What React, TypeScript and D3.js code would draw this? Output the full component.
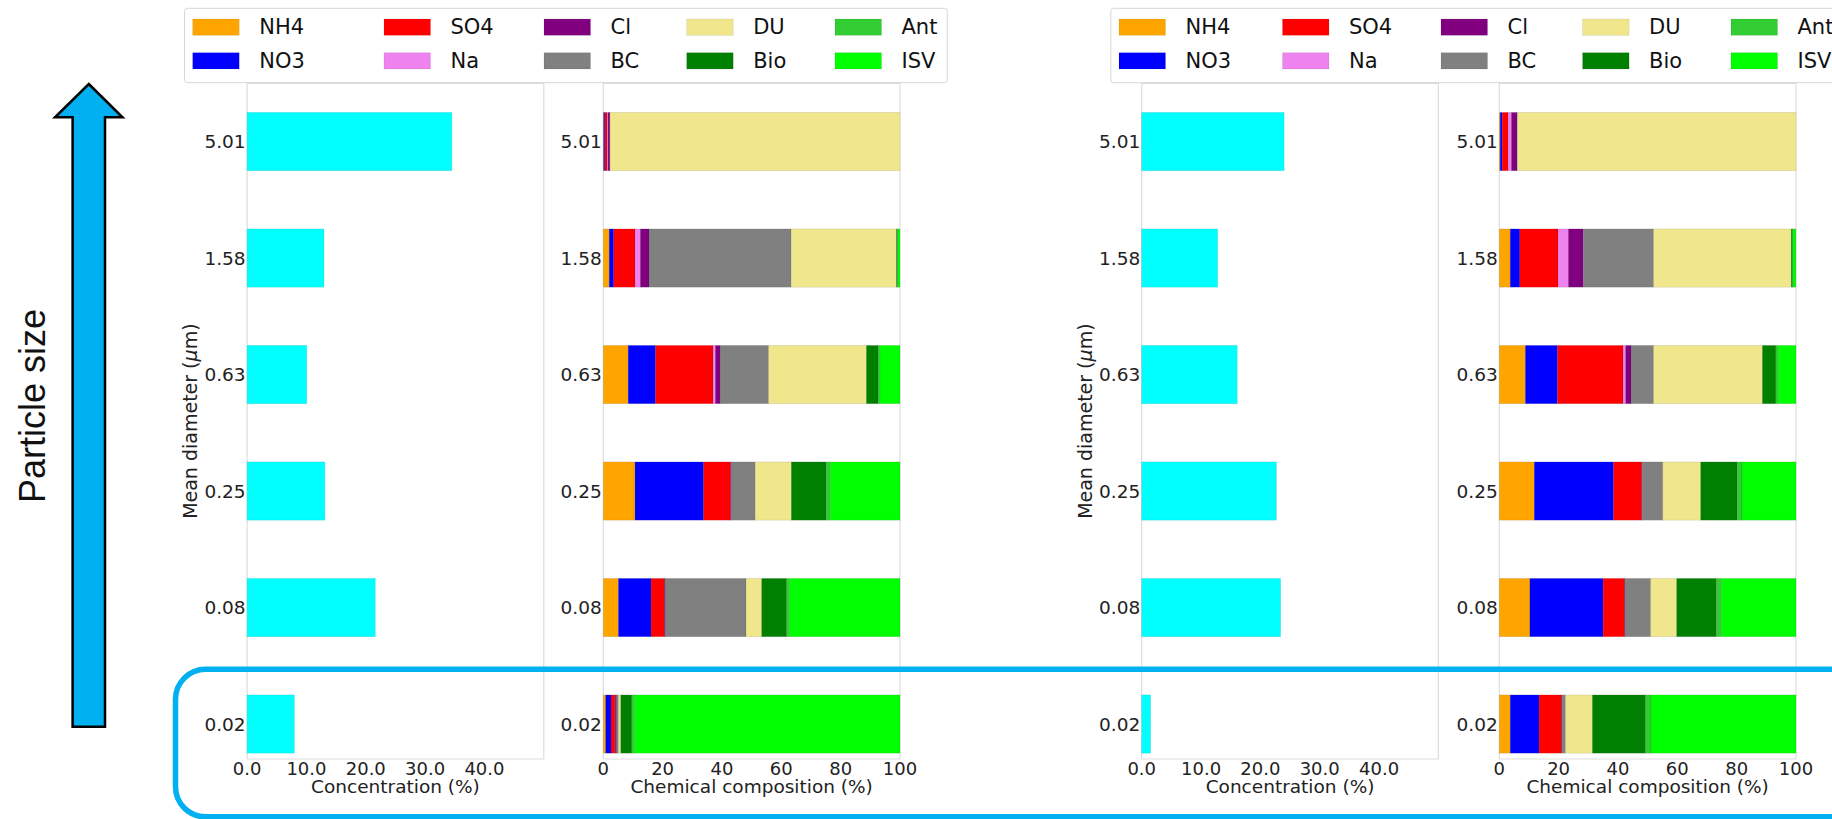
import React from "react";
import * as d3 from "d3";

// particle size bins (bottom to top)
const sizeLabels = ["0.02", "0.08", "0.25", "0.63", "1.58", "5.01"];
const species = ["NH4", "NO3", "SO4", "Na", "Cl", "BC", "DU", "Bio", "Ant", "ISV"];
const speciesColors = ["#ffa500", "#0000ff", "#ff0000", "#ee82ee", "#800080", "#808080", "#f0e68c", "#008000", "#32cd32", "#00ff00"];

// concentration share of each size bin (%)
const concLeft = [7.96, 21.6, 13.1, 10.05, 12.95, 34.5];
const concRight = [1.5, 23.4, 22.7, 16.1, 12.8, 24.0];

// chemical composition (%), rows follow sizeLabels, columns follow species
const compLeft = [
  [0.8, 1.8, 1.3, 0.1, 0.5, 0.6, 0.8, 3.7, 0.9, 89.5],
  [5.1, 11.0, 4.5, 0, 0.2, 27.3, 5.3, 8.4, 1.0, 37.2],
  [10.7, 23.1, 9.1, 0, 0.3, 8.0, 12.2, 11.8, 1.3, 23.5],
  [8.4, 9.2, 19.4, 0.8, 1.7, 16.2, 33.0, 3.9, 0.6, 6.8],
  [2.0, 1.5, 7.2, 1.8, 2.9, 47.9, 35.5, 0.3, 0.2, 0.7],
  [0.1, 0.4, 0.8, 0.3, 0.6, 0.1, 97.7, 0, 0, 0],
];
const compRight = [
  [3.7, 9.7, 7.6, 0, 0.2, 1.1, 9.1, 17.9, 1.8, 48.9],
  [10.3, 24.7, 7.2, 0, 0.2, 8.6, 8.8, 13.4, 1.7, 25.1],
  [11.8, 26.7, 9.5, 0, 0.2, 6.9, 12.8, 12.3, 1.6, 18.2],
  [8.8, 10.8, 22.1, 0.9, 1.8, 7.6, 36.7, 4.5, 0.8, 6.0],
  [3.7, 3.2, 12.9, 3.5, 5.0, 23.7, 46.4, 0.4, 0.2, 1.0],
  [0.3, 0.7, 2.0, 1.1, 1.9, 0.1, 93.9, 0, 0, 0],
];

const concTicks = [0, 10, 20, 30, 40];
const chemTicks = [0, 20, 40, 60, 80, 100];

const FONT = "DejaVu Sans";
const AXIS_W = 296.7;
const Y_TOP = 83.3;
const Y_BOTTOM = 759;
const SPINE = "#dddddd";
// legend column offsets (matplotlib sizes columns to their text)
const legendColsLeft = [0, 191.3, 351.3, 494, 642.3];
const legendColsRight = [0, 163.5, 322, 463.6, 612];

const y = d3.scaleLinear().domain([-0.3, 5.5]).range([Y_BOTTOM, Y_TOP]);
const barH = (y(0) - y(1)) * 0.5;

function Legend({ x, w, cols }: { x: number; w: number; cols: number[] }) {
  return (
    <g>
      <rect x={x} y={8.3} width={w} height={74.4} rx={3} fill="white" fillOpacity={0.85} stroke="#d6d6d6" />
      {species.map((s, i) => {
        const col = Math.floor(i / 2);
        const row = i % 2;
        const px = x + 8.2 + cols[col];
        const py = 19 + row * 33.7;
        return (
          <g key={s}>
            <rect x={px} y={py} width={46.5} height={16.3} fill={speciesColors[i]} stroke="rgba(0,0,0,0.12)" strokeWidth={0.6} />
            <text x={px + 66.5} y={py + 8.2} dominantBaseline="central" fontFamily={FONT} fontSize={21} fill="#111">{s}</text>
          </g>
        );
      })}
    </g>
  );
}

function AxisFrame({ x0 }: { x0: number }) {
  return (
    <g stroke={SPINE} strokeWidth={1.2} fill="none">
      <line x1={x0} x2={x0} y1={Y_TOP} y2={Y_BOTTOM} />
      <line x1={x0 + AXIS_W} x2={x0 + AXIS_W} y1={Y_TOP} y2={Y_BOTTOM} />
      <line x1={x0} x2={x0 + AXIS_W} y1={Y_BOTTOM} y2={Y_BOTTOM} />
      <line x1={x0} x2={x0 + AXIS_W} y1={Y_TOP} y2={Y_TOP} />
    </g>
  );
}

function YTicks({ x0 }: { x0: number }) {
  return (
    <g>
      {sizeLabels.map((s, i) => (
        <text key={s} x={x0 - 1.5} y={y(i)} textAnchor="end" dominantBaseline="central" fontFamily={FONT} fontSize={18.5} fill="#222">{s}</text>
      ))}
    </g>
  );
}

function Panel({ x0, chemX0, conc, comp }: { x0: number; chemX0: number; conc: number[]; comp: number[][] }) {
  const xc = d3.scaleLinear().domain([0, 50]).range([x0, x0 + AXIS_W]);
  const xm = d3.scaleLinear().domain([0, 100]).range([chemX0, chemX0 + AXIS_W]);

  const rows = comp.map((r, i) => {
    const o: any = { size: sizeLabels[i] };
    species.forEach((s, j) => (o[s] = r[j]));
    return o;
  });
  const stacked = d3.stack().keys(species)(rows);
  const fmt = d3.format(".1f");

  return (
    <g>
      {/* concentration panel */}
      <AxisFrame x0={x0} />
      {conc.map((v, i) => (
        <rect key={i} x={xc(0)} y={y(i) - barH / 2} width={xc(v) - xc(0)} height={barH} fill="#00ffff" stroke="rgba(0,120,120,0.18)" strokeWidth={0.8} />
      ))}
      <YTicks x0={x0} />
      {concTicks.map((t) => (
        <text key={t} x={xc(t)} y={775} textAnchor="middle" fontFamily={FONT} fontSize={18} fill="#222">{fmt(t)}</text>
      ))}
      <text x={xc(25)} y={793} textAnchor="middle" fontFamily={FONT} fontSize={18.5} fill="#222">Concentration (%)</text>
      <text transform={`translate(${x0 - 50},${(Y_TOP + Y_BOTTOM) / 2}) rotate(-90)`} textAnchor="middle" fontFamily={FONT} fontSize={19} fill="#222">
        Mean diameter (<tspan fontStyle="italic">μ</tspan>m)
      </text>

      {/* chemical composition panel */}
      <AxisFrame x0={chemX0} />
      {stacked.map((layer, j) => (
        <g key={species[j]} fill={speciesColors[j]}>
          {layer.map((d, i) =>
            d[1] - d[0] > 0 ? (
              <rect key={i} x={xm(d[0])} y={y(i) - barH / 2} width={xm(d[1]) - xm(d[0])} height={barH} stroke="rgba(0,0,0,0.12)" strokeWidth={0.7} />
            ) : null
          )}
        </g>
      ))}
      <YTicks x0={chemX0} />
      {chemTicks.map((t) => (
        <text key={t} x={xm(t)} y={775} textAnchor="middle" fontFamily={FONT} fontSize={18} fill="#222">{t}</text>
      ))}
      <text x={xm(50)} y={793} textAnchor="middle" fontFamily={FONT} fontSize={18.5} fill="#222">Chemical composition (%)</text>
    </g>
  );
}

export default function App() {
  const arrow = [
    [88.8, 84], [122.5, 117.3], [105, 117.3], [105, 726.7],
    [72.6, 726.7], [72.6, 117.3], [55, 117.3],
  ];
  return (
    <svg width={1832} height={819} style={{ position: "absolute", left: 0, top: 0, background: "white" }}>
      <Panel x0={247.1} chemX0={603.3} conc={concLeft} comp={compLeft} />
      <Panel x0={1141.7} chemX0={1499.3} conc={concRight} comp={compRight} />
      <Legend x={184.5} w={762.8} cols={legendColsLeft} />
      <Legend x={1110.8} w={735} cols={legendColsRight} />

      {/* particle size arrow */}
      <polygon points={arrow.map((p) => p.join(",")).join(" ")} fill="#00b0f0" stroke="black" strokeWidth={2.5} />
      <text transform="translate(45,406) rotate(-90)" textAnchor="middle" fontFamily="Liberation Sans" fontSize={36} fill="#111">Particle size</text>

      {/* highlight box around the smallest size bin */}
      <rect x={175.5} y={669.3} width={1750} height={147.5} rx={30} fill="none" stroke="#00b0f0" strokeWidth={5.5} />
    </svg>
  );
}
